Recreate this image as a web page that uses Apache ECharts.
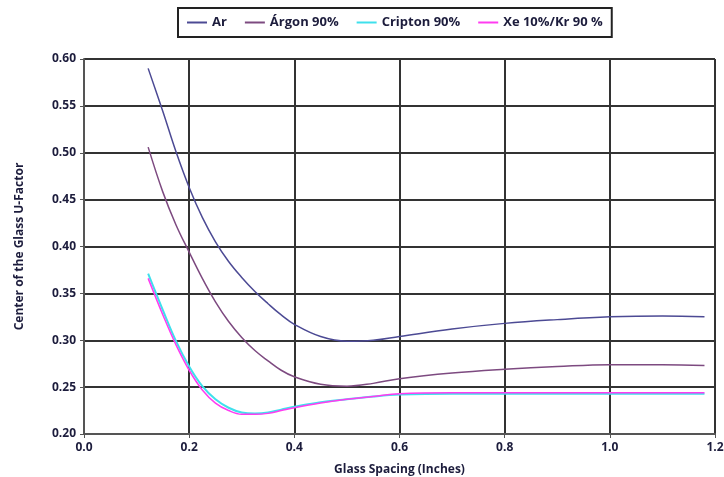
<!DOCTYPE html>
<html>
<head>
<meta charset="utf-8">
<script src="https://cdn.jsdelivr.net/npm/echarts@6/dist/echarts.min.js"></script>
<style>
  html, body { margin: 0; padding: 0; background: #fff; }
  #chart { width: 724px; height: 477px; }
</style>
</head>
<body>
<div id="chart"></div>
<script>
// espaciado del vidrio (pulgadas)
var spacing = [0.122, 0.15, 0.175, 0.2, 0.225, 0.25, 0.275, 0.3, 0.325, 0.35, 0.375, 0.4, 0.45, 0.5, 0.55, 0.6, 0.7, 0.8, 0.9, 1.0, 1.1, 1.18];

var ar      = [0.590, 0.544, 0.501, 0.463, 0.431, 0.405, 0.384, 0.367, 0.352, 0.339, 0.327, 0.317, 0.304, 0.299, 0.300, 0.304, 0.312, 0.318, 0.322, 0.325, 0.326, 0.325];
var argon   = [0.506, 0.458, 0.423, 0.394, 0.366, 0.341, 0.320, 0.303, 0.289, 0.278, 0.268, 0.261, 0.253, 0.251, 0.254, 0.259, 0.265, 0.269, 0.272, 0.274, 0.274, 0.273];
var cripton = [0.371, 0.332, 0.299, 0.272, 0.251, 0.237, 0.228, 0.223, 0.222, 0.223, 0.226, 0.229, 0.234, 0.237, 0.240, 0.242, 0.243, 0.243, 0.243, 0.243, 0.243, 0.243];
var xe      = [0.366, 0.327, 0.295, 0.268, 0.247, 0.233, 0.225, 0.221, 0.221, 0.222, 0.225, 0.228, 0.233, 0.237, 0.240, 0.243, 0.244, 0.244, 0.244, 0.244, 0.244, 0.244];

var names  = ['Ar', 'Árgon 90%', 'Cripton 90%', 'Xe 10%/Kr 90 %'];
var colors = ['#4c4a94', '#7d4a80', '#3fe0ec', '#ff3cf0'];

function pares(ys) {
  var out = [];
  for (var i = 0; i < spacing.length; i++) out.push([spacing[i], ys[i]]);
  return out;
}

var myChart = echarts.init(document.getElementById('chart'));
var font = 'Open Sans';
var txt = '#1c1c3c';

function linea(i, ys, w) {
  return {
    name: names[i], type: 'line', smooth: 0.4,
    symbol: 'none', lineStyle: { width: w }, data: pares(ys)
  };
}

var option = {
  animation: false,
  textStyle: { fontFamily: font },
  color: colors,
  legend: {
    top: 8,
    left: 178,
    data: names,
    icon: 'rect',
    itemWidth: 20,
    itemHeight: 2,
    itemGap: 18,
    borderColor: '#222',
    borderWidth: 2,
    borderRadius: 0,
    padding: [8, 9, 8, 9],
    textStyle: { fontFamily: font, fontWeight: 'bold', fontSize: 13, color: txt }
  },
  grid: { left: 84, right: 9, top: 59, bottom: 43, outerBoundsMode: 'none', containLabel: false },
  xAxis: {
    type: 'value',
    min: 0, max: 1.2, interval: 0.2,
    name: 'Glass Spacing (Inches)',
    nameLocation: 'middle',
    nameGap: 30,
    nameTextStyle: { fontFamily: font, fontWeight: 'bold', fontSize: 12, color: txt },
    axisLine: { lineStyle: { color: '#555', width: 2 } },
    axisTick: { show: true, length: 4, lineStyle: { color: '#555' } },
    axisLabel: {
      margin: 8, fontWeight: 'bold', fontSize: 12, color: txt,
      formatter: function (v) { return v.toFixed(1); }
    },
    splitLine: { lineStyle: { color: '#333', width: 2 } }
  },
  yAxis: {
    type: 'value',
    min: 0.2, max: 0.6, interval: 0.05,
    name: 'Center of the Glass U-Factor',
    nameLocation: 'middle',
    nameGap: 58,
    nameTextStyle: { fontFamily: font, fontWeight: 'bold', fontSize: 12, color: txt },
    axisLine: { show: true, lineStyle: { color: '#555', width: 2 } },
    axisTick: { show: true, length: 4, lineStyle: { color: '#555' } },
    axisLabel: {
      margin: 8, fontWeight: 'bold', fontSize: 12, color: txt,
      formatter: function (v) { return v.toFixed(2); }
    },
    splitLine: { lineStyle: { color: '#333', width: 2 } }
  },
  series: [
    linea(0, ar, 1.5),
    linea(1, argon, 1.5),
    linea(2, cripton, 2),
    linea(3, xe, 1.5)
  ]
};

myChart.setOption(option);
</script>
</body>
</html>
